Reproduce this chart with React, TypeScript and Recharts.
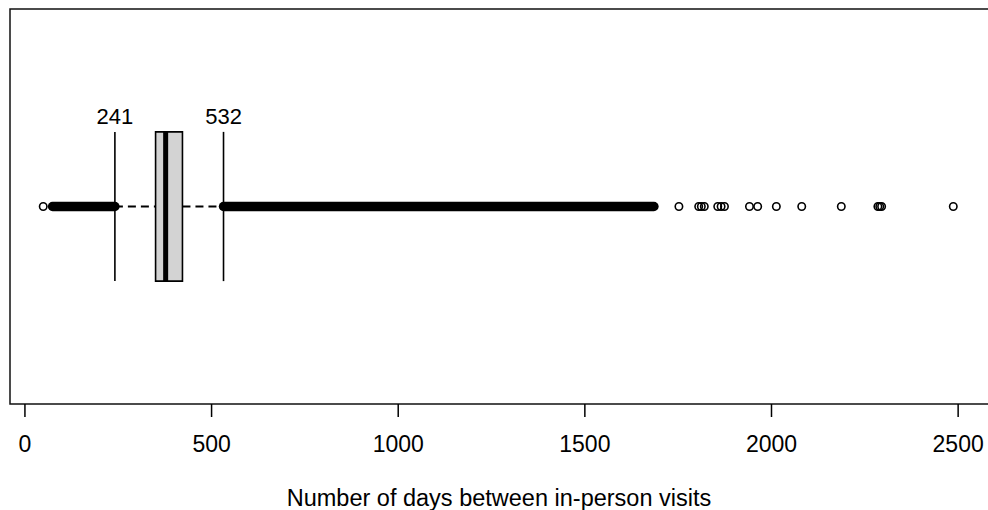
import {
  ComposedChart,
  XAxis,
  YAxis,
  Scatter,
  ReferenceArea,
  ReferenceLine,
  ReferenceDot,
} from "recharts";

const FONT = '"Liberation Sans", Arial, sans-serif';

const xTicks = [0, 500, 1000, 1500, 2000, 2500];
const xDomain: [number, number] = [-40, 2580];
const yDomain: [number, number] = [0.46, 1.54];

// five-number summary
const whiskerLow = 241;
const whiskerHigh = 532;
const q1 = 350;
const median = 377;
const q3 = 422;

// stretches where the outlier circles pile into a solid black bar
const denseRuns = [
  [74, 241],
  [532, 1685],
];
// outliers that are still drawn as separate circles
const outliers = [49, 1752, 1805, 1812, 1820, 1856, 1865, 1874, 1941, 1963, 2013, 2081, 2187, 2285, 2290, 2295, 2487];

const boxMid = 1;
const boxHalf = 0.204;

const outlierData = outliers.map((x) => ({ x, y: boxMid }));

const Ring = (p: any) => (
  <circle cx={p.cx} cy={p.cy} r={3.7} fill="none" stroke="#000" strokeWidth={1.6} />
);

export default function App() {
  return (
    <div style={{ position: "absolute", left: 0, top: 0, background: "#fff", fontFamily: FONT }}>
      <ComposedChart width={988} height={510} margin={{ top: 9, right: 0, bottom: 0, left: 10 }}>
        <XAxis
          type="number"
          dataKey="x"
          domain={xDomain}
          allowDataOverflow
          ticks={xTicks}
          interval={0}
          axisLine={false}
          tickSize={13}
          tickMargin={19}
          tickLine={{ stroke: "#000", strokeWidth: 1.5 }}
          tick={{ fill: "#000", fontSize: 23, fontFamily: FONT }}
          height={106}
          label={{
            value: "Number of days between in-person visits",
            position: "insideBottom",
            offset: 4,
            fill: "#000",
            fontSize: 23.5,
            fontFamily: FONT,
          }}
        />
        <YAxis type="number" dataKey="y" domain={yDomain} allowDataOverflow hide />

        {/* plot frame, right side runs off the picture */}
        <ReferenceArea
          x1={xDomain[0]}
          x2={2700}
          y1={yDomain[0]}
          y2={yDomain[1]}
          ifOverflow="visible"
          fill="none"
          stroke="#111"
          strokeWidth={1.5}
        />

        {/* dashed whiskers */}
        <ReferenceLine
          segment={[{ x: whiskerLow, y: boxMid }, { x: q1, y: boxMid }]}
          stroke="#000"
          strokeWidth={2}
          strokeDasharray="8 5"
        />
        <ReferenceLine
          segment={[{ x: q3, y: boxMid }, { x: whiskerHigh, y: boxMid }]}
          stroke="#000"
          strokeWidth={2}
          strokeDasharray="8 5"
        />

        {denseRuns.map(([a, b], i) => (
          <ReferenceLine
            key={"run" + i}
            segment={[{ x: a, y: boxMid }, { x: b, y: boxMid }]}
            stroke="#000"
            strokeWidth={9.5}
            strokeLinecap="round"
          />
        ))}

        {/* whisker ends */}
        {[whiskerLow, whiskerHigh].map((w) => (
          <ReferenceLine
            key={"w" + w}
            segment={[{ x: w, y: boxMid - boxHalf }, { x: w, y: boxMid + boxHalf }]}
            stroke="#000"
            strokeWidth={1.6}
          />
        ))}

        <ReferenceArea
          x1={q1}
          x2={q3}
          y1={boxMid - boxHalf}
          y2={boxMid + boxHalf}
          fill="#d3d3d3"
          fillOpacity={1}
          stroke="#000"
          strokeWidth={1.6}
        />
        <ReferenceLine
          segment={[{ x: median, y: boxMid - boxHalf }, { x: median, y: boxMid + boxHalf }]}
          stroke="#000"
          strokeWidth={5}
        />

        <Scatter data={outlierData} dataKey="y" shape={Ring} isAnimationActive={false} />

        {[whiskerLow, whiskerHigh].map((w) => (
          <ReferenceDot
            key={"lab" + w}
            x={w}
            y={boxMid + boxHalf}
            r={0}
            fill="none"
            stroke="none"
            label={{ value: String(w), position: "top", offset: 8, fill: "#000", fontSize: 22, fontFamily: FONT }}
          />
        ))}
      </ComposedChart>
    </div>
  );
}
